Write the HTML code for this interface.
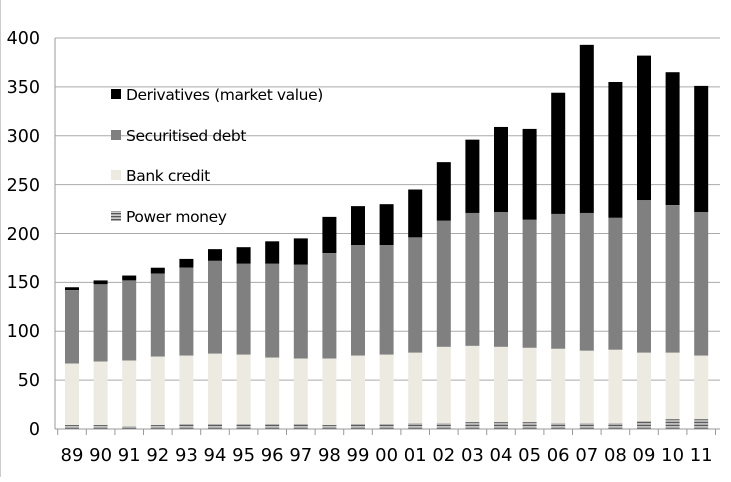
<!DOCTYPE html><html><head><style>body{margin:0;background:#fff}svg text{font-family:"DejaVu Sans","Liberation Sans",sans-serif}</style></head><body>
<svg width="731" height="477" xmlns="http://www.w3.org/2000/svg">
<defs><pattern id="pm" width="4" height="3" patternUnits="userSpaceOnUse"><rect width="4" height="3" fill="#ccc"/><rect width="4" height="1.3" fill="#555"/></pattern></defs>
<rect x="0" y="0" width="1" height="477" fill="#ccc"/>
<g stroke="#aaa" stroke-width="1">
<line x1="55" x2="720" y1="380.1" y2="380.1"/><line x1="55" x2="720" y1="331.25" y2="331.25"/><line x1="55" x2="720" y1="282.4" y2="282.4"/><line x1="55" x2="720" y1="233.5" y2="233.5"/><line x1="55" x2="720" y1="184.6" y2="184.6"/><line x1="55" x2="720" y1="135.75" y2="135.75"/><line x1="55" x2="720" y1="86.9" y2="86.9"/><line x1="55" x2="720" y1="38" y2="38"/>
</g>
<g font-size="17.5" text-anchor="end">
<text x="40" y="435">0</text><text x="40" y="386">50</text><text x="40" y="337">100</text><text x="40" y="288">150</text><text x="40" y="240">200</text><text x="40" y="191">250</text><text x="40" y="142">300</text><text x="40" y="93">350</text><text x="40" y="44">400</text>
</g>
<g transform="translate(0,429) scale(1,-0.9775)">
<g fill="#000">
<rect x="65" y="142" width="14" height="3"/><rect x="93.6" y="148" width="14" height="4"/><rect x="122.2" y="152" width="14" height="5"/><rect x="150.8" y="159" width="14" height="6"/><rect x="179.4" y="165" width="14" height="9"/><rect x="208" y="172" width="14" height="12"/><rect x="236.6" y="169" width="14" height="17"/><rect x="265.2" y="169" width="14" height="23"/><rect x="293.8" y="168" width="14" height="27"/><rect x="322.4" y="180" width="14" height="37"/><rect x="351" y="188" width="14" height="40"/><rect x="379.6" y="188" width="14" height="42"/><rect x="408.2" y="196" width="14" height="49"/><rect x="436.8" y="213" width="14" height="60"/><rect x="465.4" y="221" width="14" height="75"/><rect x="494" y="222" width="14" height="87"/><rect x="522.6" y="214" width="14" height="93"/><rect x="551.2" y="220" width="14" height="124"/><rect x="579.8" y="221" width="14" height="172"/><rect x="608.4" y="216" width="14" height="139"/><rect x="637" y="234" width="14" height="148"/><rect x="665.6" y="229" width="14" height="136"/><rect x="694.2" y="222" width="14" height="129"/>
</g>
<g fill="#808080">
<rect x="65" y="67" width="14" height="75"/><rect x="93.6" y="69" width="14" height="79"/><rect x="122.2" y="70" width="14" height="82"/><rect x="150.8" y="74" width="14" height="85"/><rect x="179.4" y="75" width="14" height="90"/><rect x="208" y="77" width="14" height="95"/><rect x="236.6" y="76" width="14" height="93"/><rect x="265.2" y="73" width="14" height="96"/><rect x="293.8" y="72" width="14" height="96"/><rect x="322.4" y="72" width="14" height="108"/><rect x="351" y="75" width="14" height="113"/><rect x="379.6" y="76" width="14" height="112"/><rect x="408.2" y="78" width="14" height="118"/><rect x="436.8" y="84" width="14" height="129"/><rect x="465.4" y="85" width="14" height="136"/><rect x="494" y="84" width="14" height="138"/><rect x="522.6" y="83" width="14" height="131"/><rect x="551.2" y="82" width="14" height="138"/><rect x="579.8" y="80" width="14" height="141"/><rect x="608.4" y="81" width="14" height="135"/><rect x="637" y="78" width="14" height="156"/><rect x="665.6" y="78" width="14" height="151"/><rect x="694.2" y="75" width="14" height="147"/>
</g>
<g fill="#edebe1">
<rect x="65" y="4" width="14" height="63"/><rect x="93.6" y="4" width="14" height="65"/><rect x="122.2" y="3" width="14" height="67"/><rect x="150.8" y="4" width="14" height="70"/><rect x="179.4" y="5" width="14" height="70"/><rect x="208" y="5" width="14" height="72"/><rect x="236.6" y="5" width="14" height="71"/><rect x="265.2" y="5" width="14" height="68"/><rect x="293.8" y="5" width="14" height="67"/><rect x="322.4" y="4" width="14" height="68"/><rect x="351" y="5" width="14" height="70"/><rect x="379.6" y="5" width="14" height="71"/><rect x="408.2" y="6" width="14" height="72"/><rect x="436.8" y="6" width="14" height="78"/><rect x="465.4" y="7" width="14" height="78"/><rect x="494" y="7" width="14" height="77"/><rect x="522.6" y="7" width="14" height="76"/><rect x="551.2" y="6" width="14" height="76"/><rect x="579.8" y="6" width="14" height="74"/><rect x="608.4" y="6" width="14" height="75"/><rect x="637" y="8" width="14" height="70"/><rect x="665.6" y="10" width="14" height="68"/><rect x="694.2" y="10" width="14" height="65"/>
</g>
<g fill="url(#pm)">
<rect x="65" y="0" width="14" height="4"/><rect x="93.6" y="0" width="14" height="4"/><rect x="122.2" y="0" width="14" height="3"/><rect x="150.8" y="0" width="14" height="4"/><rect x="179.4" y="0" width="14" height="5"/><rect x="208" y="0" width="14" height="5"/><rect x="236.6" y="0" width="14" height="5"/><rect x="265.2" y="0" width="14" height="5"/><rect x="293.8" y="0" width="14" height="5"/><rect x="322.4" y="0" width="14" height="4"/><rect x="351" y="0" width="14" height="5"/><rect x="379.6" y="0" width="14" height="5"/><rect x="408.2" y="0" width="14" height="6"/><rect x="436.8" y="0" width="14" height="6"/><rect x="465.4" y="0" width="14" height="7"/><rect x="494" y="0" width="14" height="7"/><rect x="522.6" y="0" width="14" height="7"/><rect x="551.2" y="0" width="14" height="6"/><rect x="579.8" y="0" width="14" height="6"/><rect x="608.4" y="0" width="14" height="6"/><rect x="637" y="0" width="14" height="8"/><rect x="665.6" y="0" width="14" height="10"/><rect x="694.2" y="0" width="14" height="10"/>
</g>
</g>
<g stroke="#999" stroke-width="1">
<line x1="55" x2="55" y1="38" y2="429"/><line x1="55" x2="720" y1="429" y2="429"/>
<line x1="57.7" x2="57.7" y1="429" y2="435"/><line x1="86.3" x2="86.3" y1="429" y2="435"/><line x1="114.9" x2="114.9" y1="429" y2="435"/><line x1="143.5" x2="143.5" y1="429" y2="435"/><line x1="172.1" x2="172.1" y1="429" y2="435"/><line x1="200.7" x2="200.7" y1="429" y2="435"/><line x1="229.3" x2="229.3" y1="429" y2="435"/><line x1="257.9" x2="257.9" y1="429" y2="435"/><line x1="286.5" x2="286.5" y1="429" y2="435"/><line x1="315.1" x2="315.1" y1="429" y2="435"/><line x1="343.7" x2="343.7" y1="429" y2="435"/><line x1="372.3" x2="372.3" y1="429" y2="435"/><line x1="400.9" x2="400.9" y1="429" y2="435"/><line x1="429.5" x2="429.5" y1="429" y2="435"/><line x1="458.1" x2="458.1" y1="429" y2="435"/><line x1="486.7" x2="486.7" y1="429" y2="435"/><line x1="515.3" x2="515.3" y1="429" y2="435"/><line x1="543.9" x2="543.9" y1="429" y2="435"/><line x1="572.5" x2="572.5" y1="429" y2="435"/><line x1="601.1" x2="601.1" y1="429" y2="435"/><line x1="629.7" x2="629.7" y1="429" y2="435"/><line x1="658.3" x2="658.3" y1="429" y2="435"/><line x1="686.9" x2="686.9" y1="429" y2="435"/><line x1="715.5" x2="715.5" y1="429" y2="435"/>
</g>
<g font-size="18" text-anchor="middle">
<text x="72" y="461">89</text><text x="100.6" y="461">90</text><text x="129.2" y="461">91</text><text x="157.8" y="461">92</text><text x="186.4" y="461">93</text><text x="215" y="461">94</text><text x="243.6" y="461">95</text><text x="272.2" y="461">96</text><text x="300.8" y="461">97</text><text x="329.4" y="461">98</text><text x="358" y="461">99</text><text x="386.6" y="461">00</text><text x="415.2" y="461">01</text><text x="443.8" y="461">02</text><text x="472.4" y="461">03</text><text x="501" y="461">04</text><text x="529.6" y="461">05</text><text x="558.2" y="461">06</text><text x="586.8" y="461">07</text><text x="615.4" y="461">08</text><text x="644" y="461">09</text><text x="672.6" y="461">10</text><text x="701.2" y="461">11</text>
</g>
<g font-size="15.5" letter-spacing="-0.4">
<rect x="111" y="89" width="10" height="10" fill="#000"/><text x="126" y="100">Derivatives (market value)</text>
<rect x="111" y="130" width="10" height="10" fill="#808080"/><text x="126" y="141">Securitised debt</text>
<rect x="111" y="170" width="10" height="10" fill="#edebe1"/><text x="126" y="181">Bank credit</text>
<rect x="111" y="211" width="10" height="10" fill="url(#pm)"/><text x="126" y="222">Power money</text>
</g>
</svg></body></html>
